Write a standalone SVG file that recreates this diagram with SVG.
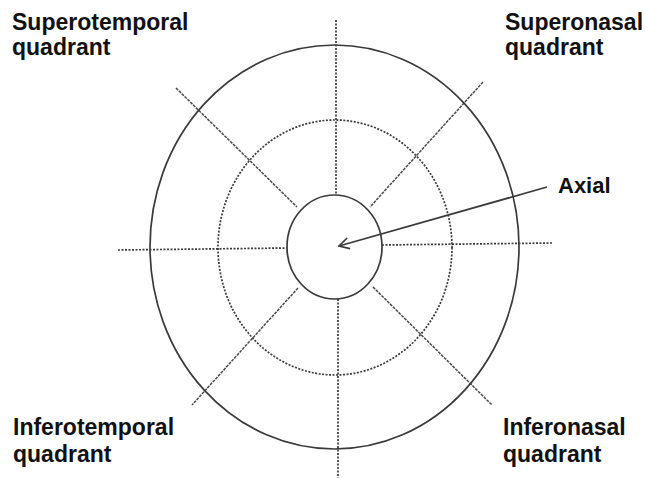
<svg xmlns="http://www.w3.org/2000/svg" width="647" height="478" viewBox="0 0 647 478">
<style>
.solid{fill:none;stroke:#3a3a3a;stroke-width:1.7}
.dot{fill:none;stroke:#3a3a3a;stroke-width:1.7;stroke-dasharray:2 1.5}
.diag{fill:none;stroke:#4a4a4a;stroke-width:1.5;stroke-dasharray:3 1}
.lbl{font-family:"Liberation Sans",Arial,sans-serif;font-weight:bold;font-size:23px;fill:#111}
</style>
<defs>
<marker id="arr" viewBox="0 0 12 14" refX="11" refY="7" markerWidth="12" markerHeight="14" markerUnits="userSpaceOnUse" orient="auto">
<path d="M1 1.5 L11 7 L1 12.5" fill="none" stroke="#3a3a3a" stroke-width="1.7"/>
</marker>
</defs>
<rect width="647" height="478" fill="#fff"/>
<g id="connectors">
<line class="dot" x1="336" y1="20" x2="336" y2="195"/>
<line class="dot" x1="338" y1="299" x2="338" y2="478"/>
<line class="dot" x1="118" y1="250" x2="287" y2="248"/>
<line class="dot" x1="382" y1="245" x2="552" y2="243"/>
<line class="diag" x1="176" y1="88" x2="297" y2="207"/>
<line class="diag" x1="483" y1="82" x2="370" y2="207"/>
<line class="diag" x1="298" y1="288" x2="192" y2="405"/>
<line class="diag" x1="373" y1="287" x2="492" y2="405"/>
<line class="solid" x1="547" y1="187" x2="339" y2="246" marker-end="url(#arr)"/>
</g>
<g id="outer"><ellipse class="solid" cx="334.5" cy="247" rx="184.5" ry="202"/></g>
<g id="middle"><ellipse class="dot" cx="335" cy="247.5" rx="117" ry="127.5"/></g>
<g id="inner"><ellipse class="solid" cx="334.5" cy="247" rx="47.5" ry="52"/></g>
<g id="superotemporal"><text class="lbl" x="12" y="30">Superotemporal</text><text class="lbl" x="12" y="55">quadrant</text></g>
<g id="superonasal"><text class="lbl" x="505" y="30">Superonasal</text><text class="lbl" x="505" y="55">quadrant</text></g>
<g id="inferotemporal"><text class="lbl" x="13" y="435">Inferotemporal</text><text class="lbl" x="13" y="462">quadrant</text></g>
<g id="inferonasal"><text class="lbl" x="503" y="435">Inferonasal</text><text class="lbl" x="503" y="462">quadrant</text></g>
<g id="axial"><text class="lbl" x="558" y="193" style="font-size:22px">Axial</text></g>
</svg>
